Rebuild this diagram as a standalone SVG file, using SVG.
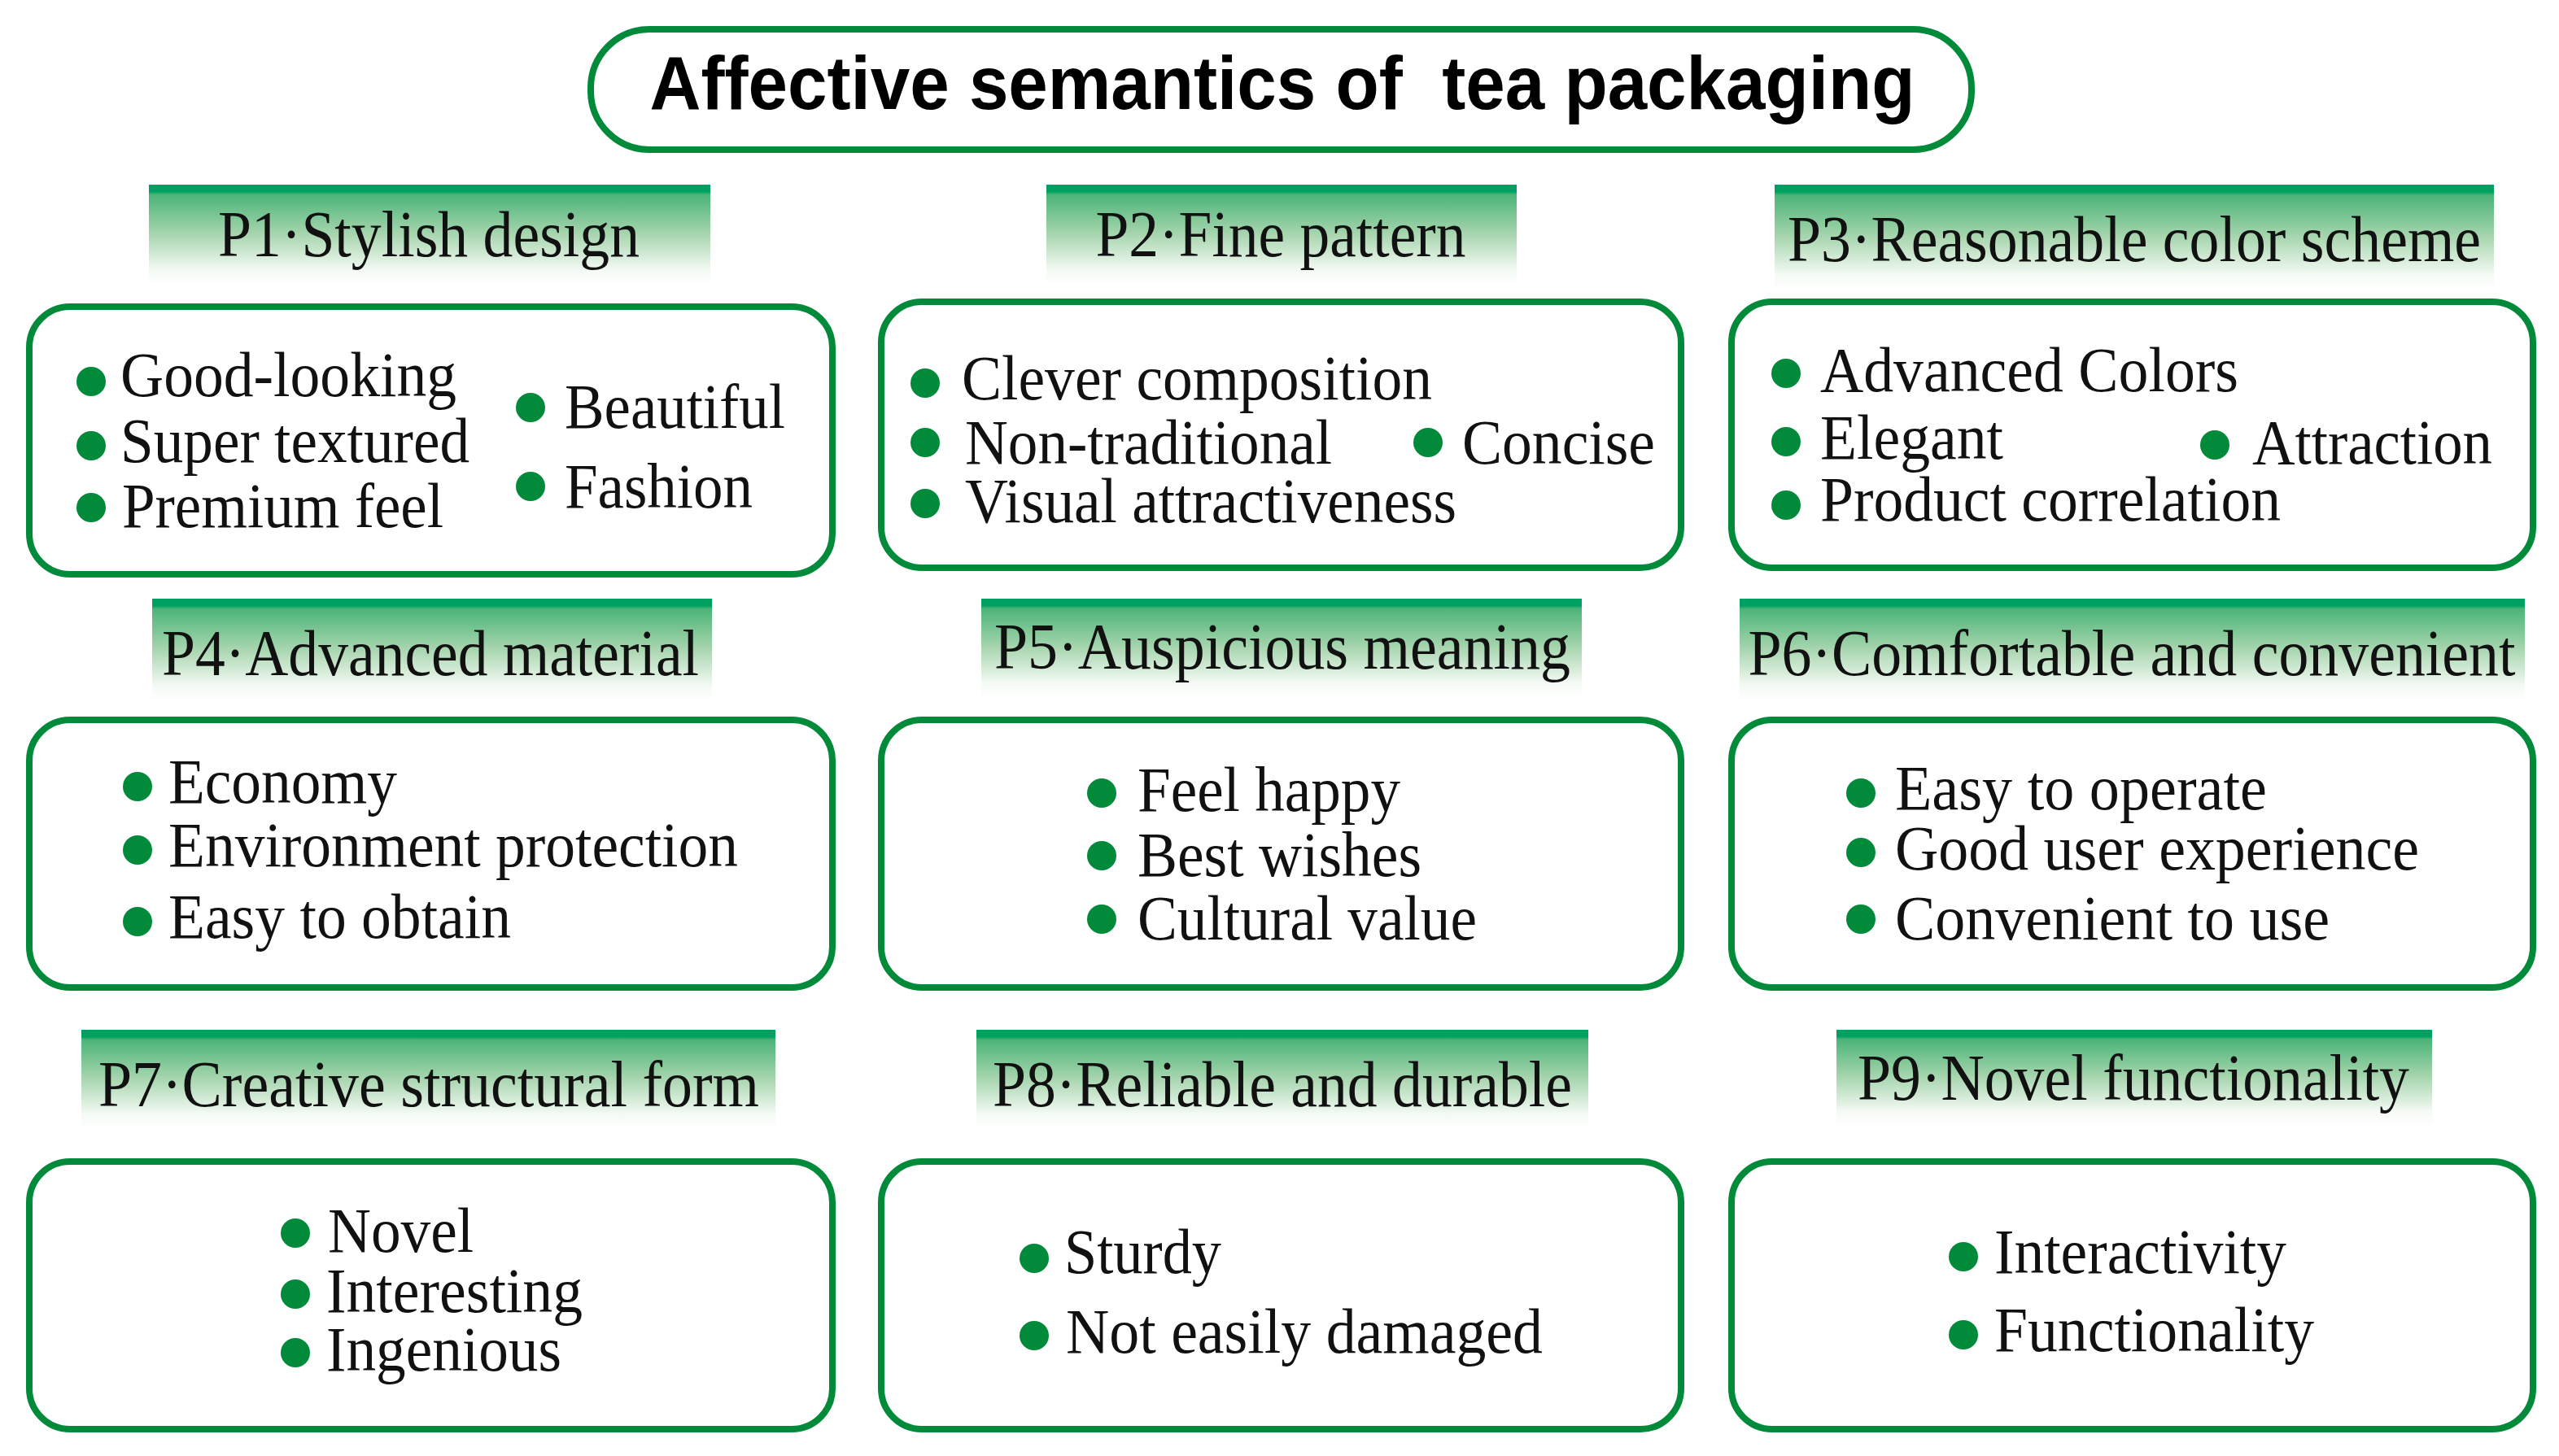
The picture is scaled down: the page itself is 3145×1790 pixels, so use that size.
<svg xmlns="http://www.w3.org/2000/svg" width="3145" height="1790" viewBox="0 0 3145 1790">
<defs>
<linearGradient id="hg" x1="0" y1="0" x2="0" y2="1">
<stop offset="0" stop-color="#00a060"/>
<stop offset="0.07" stop-color="#00a060"/>
<stop offset="0.1" stop-color="#4cb478"/>
<stop offset="0.5" stop-color="#a9d6b0"/>
<stop offset="0.85" stop-color="#f4faf4"/>
<stop offset="1" stop-color="#ffffff"/>
</linearGradient>
<style>
.box{fill:#fff;stroke:#008a3a;stroke-width:8}
.hd{fill:url(#hg)}
.ht{font-family:"Liberation Serif","Times New Roman",serif;font-size:80px;fill:#111;text-anchor:middle}
.it{font-family:"Liberation Serif","Times New Roman",serif;font-size:78px;fill:#111}
.b{fill:#008a3a}
.title{font-family:"Liberation Sans",Arial,sans-serif;font-weight:bold;font-size:93px;fill:#000;text-anchor:middle;white-space:pre}
</style>
</defs>
<rect width="3145" height="1790" fill="#fff"/>
<g id="title">
<rect x="726" y="36" width="1697" height="148" rx="72" ry="72" class="box"/>
<text x="1576" y="134" class="title" textLength="1555" lengthAdjust="spacingAndGlyphs" xml:space="preserve">Affective semantics of  tea packaging</text>
</g>
<g id="connectors"></g>
<g id="P1">
<rect x="183" y="227" width="690" height="124" class="hd"/>
<text x="527" y="315" class="ht" textLength="518" lengthAdjust="spacingAndGlyphs">P1·Stylish design</text>
<rect x="36" y="377" width="987" height="329" rx="50" class="box"/>
<circle cx="112" cy="469" r="18" class="b"/><text x="148" y="487" class="it" textLength="413" lengthAdjust="spacingAndGlyphs">Good-looking</text>
<circle cx="112" cy="548" r="18" class="b"/><text x="148" y="568" class="it" textLength="429" lengthAdjust="spacingAndGlyphs">Super textured</text>
<circle cx="112" cy="624" r="18" class="b"/><text x="150" y="648" class="it" textLength="395" lengthAdjust="spacingAndGlyphs">Premium feel</text>
<circle cx="652" cy="501" r="18" class="b"/><text x="694" y="526" class="it" textLength="271" lengthAdjust="spacingAndGlyphs">Beautiful</text>
<circle cx="652" cy="598" r="18" class="b"/><text x="694" y="624" class="it" textLength="231" lengthAdjust="spacingAndGlyphs">Fashion</text>
</g>
<g id="P2">
<rect x="1286" y="227" width="578" height="124" class="hd"/>
<text x="1574" y="315" class="ht" textLength="455" lengthAdjust="spacingAndGlyphs">P2·Fine pattern</text>
<rect x="1083" y="371" width="983" height="327" rx="50" class="box"/>
<circle cx="1137" cy="471" r="18" class="b"/><text x="1182" y="491" class="it" textLength="578" lengthAdjust="spacingAndGlyphs">Clever composition</text>
<circle cx="1137" cy="544" r="18" class="b"/><text x="1186" y="570" class="it" textLength="451" lengthAdjust="spacingAndGlyphs">Non-traditional</text>
<circle cx="1755" cy="544" r="18" class="b"/><text x="1797" y="570" class="it" textLength="237" lengthAdjust="spacingAndGlyphs">Concise</text>
<circle cx="1137" cy="619" r="18" class="b"/><text x="1186" y="642" class="it" textLength="604" lengthAdjust="spacingAndGlyphs">Visual attractiveness</text>
</g>
<g id="P3">
<rect x="2181" y="227" width="884" height="130" class="hd"/>
<text x="2623" y="321" class="ht" textLength="852" lengthAdjust="spacingAndGlyphs">P3·Reasonable color scheme</text>
<rect x="2128" y="371" width="985" height="327" rx="50" class="box"/>
<circle cx="2195" cy="459" r="18" class="b"/><text x="2237" y="481" class="it" textLength="514" lengthAdjust="spacingAndGlyphs">Advanced Colors</text>
<circle cx="2195" cy="543" r="18" class="b"/><text x="2237" y="564" class="it" textLength="225" lengthAdjust="spacingAndGlyphs">Elegant</text>
<circle cx="2722" cy="547" r="18" class="b"/><text x="2768" y="570" class="it" textLength="295" lengthAdjust="spacingAndGlyphs">Attraction</text>
<circle cx="2195" cy="621" r="18" class="b"/><text x="2237" y="640" class="it" textLength="566" lengthAdjust="spacingAndGlyphs">Product correlation</text>
</g>
<g id="P4">
<rect x="187" y="736" width="688" height="126" class="hd"/>
<text x="529" y="830" class="ht" textLength="660" lengthAdjust="spacingAndGlyphs">P4·Advanced material</text>
<rect x="36" y="885" width="987" height="329" rx="50" class="box"/>
<circle cx="169" cy="967" r="18" class="b"/><text x="207" y="987" class="it" textLength="281" lengthAdjust="spacingAndGlyphs">Economy</text>
<circle cx="169" cy="1045" r="18" class="b"/><text x="207" y="1065" class="it" textLength="700" lengthAdjust="spacingAndGlyphs">Environment protection</text>
<circle cx="169" cy="1133" r="18" class="b"/><text x="207" y="1153" class="it" textLength="421" lengthAdjust="spacingAndGlyphs">Easy to obtain</text>
</g>
<g id="P5">
<rect x="1206" y="736" width="738" height="122" class="hd"/>
<text x="1576" y="822" class="ht" textLength="708" lengthAdjust="spacingAndGlyphs">P5·Auspicious meaning</text>
<rect x="1083" y="885" width="983" height="329" rx="50" class="box"/>
<circle cx="1354" cy="975" r="18" class="b"/><text x="1398" y="997" class="it" textLength="323" lengthAdjust="spacingAndGlyphs">Feel happy</text>
<circle cx="1354" cy="1052" r="18" class="b"/><text x="1398" y="1077" class="it" textLength="349" lengthAdjust="spacingAndGlyphs">Best wishes</text>
<circle cx="1354" cy="1130" r="18" class="b"/><text x="1398" y="1155" class="it" textLength="417" lengthAdjust="spacingAndGlyphs">Cultural value</text>
</g>
<g id="P6">
<rect x="2138" y="736" width="965" height="126" class="hd"/>
<text x="2620" y="830" class="ht" textLength="943" lengthAdjust="spacingAndGlyphs">P6·Comfortable and convenient</text>
<rect x="2128" y="885" width="985" height="329" rx="50" class="box"/>
<circle cx="2287" cy="975" r="18" class="b"/><text x="2329" y="995" class="it" textLength="457" lengthAdjust="spacingAndGlyphs">Easy to operate</text>
<circle cx="2287" cy="1048" r="18" class="b"/><text x="2329" y="1069" class="it" textLength="644" lengthAdjust="spacingAndGlyphs">Good user experience</text>
<circle cx="2287" cy="1130" r="18" class="b"/><text x="2329" y="1155" class="it" textLength="534" lengthAdjust="spacingAndGlyphs">Convenient to use</text>
</g>
<g id="P7">
<rect x="100" y="1266" width="853" height="122" class="hd"/>
<text x="527" y="1360" class="ht" textLength="812" lengthAdjust="spacingAndGlyphs">P7·Creative structural form</text>
<rect x="36" y="1428" width="987" height="329" rx="50" class="box"/>
<circle cx="363" cy="1516" r="18" class="b"/><text x="403" y="1539" class="it" textLength="179" lengthAdjust="spacingAndGlyphs">Novel</text>
<circle cx="363" cy="1591" r="18" class="b"/><text x="401" y="1613" class="it" textLength="315" lengthAdjust="spacingAndGlyphs">Interesting</text>
<circle cx="363" cy="1663" r="18" class="b"/><text x="401" y="1685" class="it" textLength="289" lengthAdjust="spacingAndGlyphs">Ingenious</text>
</g>
<g id="P8">
<rect x="1200" y="1266" width="752" height="122" class="hd"/>
<text x="1576" y="1360" class="ht" textLength="712" lengthAdjust="spacingAndGlyphs">P8·Reliable and durable</text>
<rect x="1083" y="1428" width="983" height="329" rx="50" class="box"/>
<circle cx="1271" cy="1547" r="18" class="b"/><text x="1308" y="1565" class="it" textLength="193" lengthAdjust="spacingAndGlyphs">Sturdy</text>
<circle cx="1271" cy="1642" r="18" class="b"/><text x="1310" y="1663" class="it" textLength="586" lengthAdjust="spacingAndGlyphs">Not easily damaged</text>
</g>
<g id="P9">
<rect x="2257" y="1266" width="732" height="118" class="hd"/>
<text x="2622" y="1352" class="ht" textLength="678" lengthAdjust="spacingAndGlyphs">P9·Novel functionality</text>
<rect x="2128" y="1428" width="985" height="329" rx="50" class="box"/>
<circle cx="2413" cy="1545" r="18" class="b"/><text x="2451" y="1565" class="it" textLength="359" lengthAdjust="spacingAndGlyphs">Interactivity</text>
<circle cx="2413" cy="1641" r="18" class="b"/><text x="2451" y="1661" class="it" textLength="393" lengthAdjust="spacingAndGlyphs">Functionality</text>
</g>
</svg>
